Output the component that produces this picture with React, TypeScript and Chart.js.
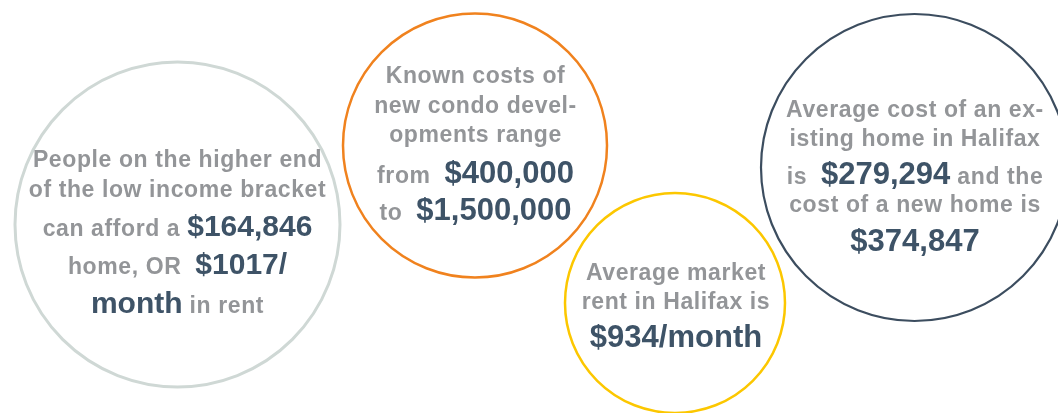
import React, { useEffect, useRef } from "react";
import { Chart, registerables } from "chart.js";

Chart.register(...registerables);

// ---- data ----
const bubbleNames = ["Low income", "Condo", "Market rent", "Home cost"];
const bubbleX = [177.5, 475, 675, 914.5];
const bubbleY = [224.5, 145.5, 303, 167.5];
const bubbleR = [162.5, 132, 110, 153.5];
const bubbleColors = ["#cfd8d5", "#f0821e", "#fcc700", "#3c4d5f"];
const bubbleBorderWidths = [3, 2.5, 2.5, 2.2];

// text lines per bubble: each segment is [text, isValue]
type Seg = [string, boolean];
const lowIncomeText: Seg[][] = [
  [["People on the higher end", false]],
  [["of the low income bracket", false]],
  [["can afford a ", false], ["$164,846", true]],
  [["home, OR  ", false], ["$1017/", true]],
  [["month", true], [" in rent", false]],
];
const condoText: Seg[][] = [
  [["Known costs of", false]],
  [["new condo devel-", false]],
  [["opments range", false]],
  [["from  ", false], ["$400,000", true]],
  [["to  ", false], ["$1,500,000", true]],
];
const rentText: Seg[][] = [
  [["Average market", false]],
  [["rent in Halifax is", false]],
  [["$934/month", true]],
];
const homeText: Seg[][] = [
  [["Average cost of an ex-", false]],
  [["isting home in Halifax", false]],
  [["is  ", false], ["$279,294", true], [" and the", false]],
  [["cost of a new home is", false]],
  [["$374,847", true]],
];
const bubbleTexts = [lowIncomeText, condoText, rentText, homeText];

// ---- layout / style ----
const lineOffsets = [
  [-57.2, -27.8, 11, 49.5, 88.5],
  [-62.2, -32.8, -3.8, 37.8, 74.5],
  [-23, 6, 44.3],
  [-50.8, -21.8, 16.5, 44.8, 83.2],
];
const textDx = [0, 0.5, 1, 0.5];
const valueSizes = [30, 31, 31, 31];
const labelSize = 23;
const labelSpacing = "0.6px";
const labelColor = "#939598";
const valueColor = "#3e5367";
const FONT = "'Liberation Sans', Arial, sans-serif";

const textPlugin = {
  id: "bubbleText",
  afterDatasetsDraw(chart: any) {
    const ctx = chart.ctx as CanvasRenderingContext2D;
    const meta = chart.getDatasetMeta(0);
    meta.data.forEach((el: any, i: number) => {
      const cx = el.x + textDx[i];
      const cy = el.y;
      const lines = bubbleTexts[i];
      lines.forEach((line, li) => {
        const y = cy + lineOffsets[i][li];
        const setFont = (isVal: boolean) => {
          ctx.font = isVal ? `bold ${valueSizes[i]}px ${FONT}` : `bold ${labelSize}px ${FONT}`;
          (ctx as any).letterSpacing = isVal ? "0px" : labelSpacing;
        };
        const widths = line.map(([t, v]) => {
          setFont(v);
          return ctx.measureText(t).width;
        });
        const total = widths.reduce((a, b) => a + b, 0);
        let x = cx - total / 2;
        ctx.save();
        ctx.textAlign = "left";
        ctx.textBaseline = "alphabetic";
        line.forEach(([t, v], si) => {
          setFont(v);
          ctx.fillStyle = v ? valueColor : labelColor;
          ctx.fillText(t, x, y);
          x += widths[si];
        });
        (ctx as any).letterSpacing = "0px";
        ctx.restore();
      });
    });
  },
};

export default function App() {
  const ref = useRef<HTMLCanvasElement | null>(null);
  useEffect(() => {
    if (!ref.current) return;
    const chart = new Chart(ref.current, {
      type: "bubble",
      data: {
        labels: bubbleNames,
        datasets: [
          {
            label: "Housing costs",
            data: bubbleX.map((x, i) => ({ x, y: bubbleY[i], r: bubbleR[i] })),
            backgroundColor: "rgba(255,255,255,0)",
            borderColor: bubbleColors,
            borderWidth: bubbleBorderWidths,
            clip: false as any,
          },
        ],
      },
      options: {
        responsive: false,
        animation: false,
        events: [],
        layout: { padding: 0, autoPadding: false },
        plugins: {
          legend: { display: false },
          tooltip: { enabled: false },
        },
        scales: {
          x: { type: "linear", min: 0, max: 1058, display: false },
          y: { type: "linear", min: 0, max: 413, reverse: true, display: false },
        },
      },
      plugins: [textPlugin],
    });
    return () => chart.destroy();
  }, []);
  return (
    <div style={{ position: "absolute", left: 0, top: 0, width: 1058, height: 413, background: "#fff" }}>
      <canvas ref={ref} width={1058} height={413} style={{ display: "block" }} />
    </div>
  );
}
